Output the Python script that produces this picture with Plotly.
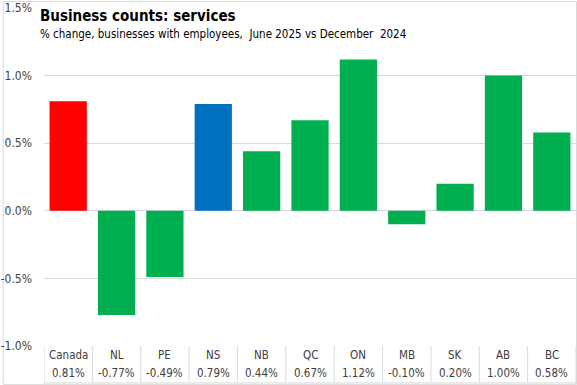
import plotly.graph_objects as go

categories = ["Canada", "NL", "PE", "NS", "NB", "QC", "ON", "MB", "SK", "AB", "BC"]
values = [0.81, -0.77, -0.49, 0.79, 0.44, 0.67, 1.12, -0.10, 0.20, 1.00, 0.58]
value_labels = ["0.81%", "-0.77%", "-0.49%", "0.79%", "0.44%", "0.67%", "1.12%", "-0.10%", "0.20%", "1.00%", "0.58%"]
tick_vals = [-1.0, -0.5, 0.0, 0.5, 1.0, 1.5]
tick_text = ["-1.0%", "-0.5%", "0.0%", "0.5%", "1.0%", "1.5%"]

RED, BLUE, GREEN = "#FF0000", "#0070C0", "#00B050"
colors = [RED if c == "Canada" else BLUE if c == "NS" else GREEN for c in categories]

FONT = "Liberation Sans Narrow, DejaVu Sans Condensed, Roboto Condensed, Roboto, Arial"
W, H = 577, 385
ML, MR, MT, MB = 41.5, 1, 7, 39
PW, PH = W - ML - MR, H - MT - MB

def px_to_paper_y(py):
    return (H - MB - py) / PH

def px_to_paper_x(px):
    return (px - ML) / PW

fig = go.Figure()
fig.add_trace(go.Bar(
    x=list(range(len(categories))), y=values, marker_color=colors,
    marker_line_width=0, hoverinfo="skip",
))

shapes = []
grid = "#D9D9D9"
for i in range(len(categories) + 1):
    shapes.append(dict(type="line", xref="x", yref="paper", x0=i - 0.5, x1=i - 0.5,
                       y0=0, y1=px_to_paper_y(383), line=dict(color=grid, width=1)))
shapes.append(dict(type="line", xref="x", yref="paper", x0=-0.5, x1=len(categories) - 0.5,
                   y0=px_to_paper_y(383), y1=px_to_paper_y(383), line=dict(color=grid, width=1)))
shapes.append(dict(type="rect", xref="paper", yref="paper",
                   x0=px_to_paper_x(0.5), x1=px_to_paper_x(576.5),
                   y0=px_to_paper_y(384.5), y1=px_to_paper_y(0.5),
                   line=dict(color="#D9D9D9", width=1), layer="below"))

annotations = []
for i, (c, v) in enumerate(zip(categories, value_labels)):
    annotations.append(dict(x=i, y=px_to_paper_y(355), xref="x", yref="paper", text=c,
                            showarrow=False, font=dict(size=11.5, color="#404040", family=FONT),
                            xanchor="center", yanchor="middle"))
    annotations.append(dict(x=i, y=px_to_paper_y(373), xref="x", yref="paper", text=v,
                            showarrow=False, font=dict(size=11.5, color="#404040", family=FONT),
                            xanchor="center", yanchor="middle"))

annotations.append(dict(x=px_to_paper_x(36), y=px_to_paper_y(25), xref="paper", yref="paper",
                        text="<b>Business counts: services</b>", showarrow=False,
                        font=dict(size=15, color="#000000", family=FONT),
                        xanchor="left", yanchor="bottom", borderpad=0))
annotations.append(dict(x=px_to_paper_x(36), y=px_to_paper_y(25), xref="paper", yref="paper",
                        text="% change, businesses with employees,  June 2025 vs December  2024",
                        showarrow=False, font=dict(size=11.5, color="#000000", family=FONT),
                        xanchor="left", yanchor="top", borderpad=0))

fig.update_layout(
    width=W, height=H,
    margin=dict(l=ML, r=MR, t=MT, b=MB),
    paper_bgcolor="white", plot_bgcolor="white",
    bargap=0.23, showlegend=False,
    font=dict(family=FONT, size=12, color="#404040"),
    xaxis=dict(range=[-0.5, len(categories) - 0.5], showticklabels=False, showgrid=False,
               zeroline=False, showline=False, fixedrange=True),
    yaxis=dict(range=[-1.0, 1.5], tickvals=tick_vals, ticktext=tick_text,
               showgrid=True, gridcolor=grid, gridwidth=1, zeroline=True, zerolinecolor=grid,
               zerolinewidth=1, showline=False, ticks="", ticklabelstandoff=11,
               tickfont=dict(size=12, color="#404040", family=FONT), fixedrange=True),
    shapes=shapes, annotations=annotations,
)

fig.write_html("out.html", config={"displayModeBar": False},
               post_script="document.body.style.margin='0';document.body.style.overflow='hidden';")
